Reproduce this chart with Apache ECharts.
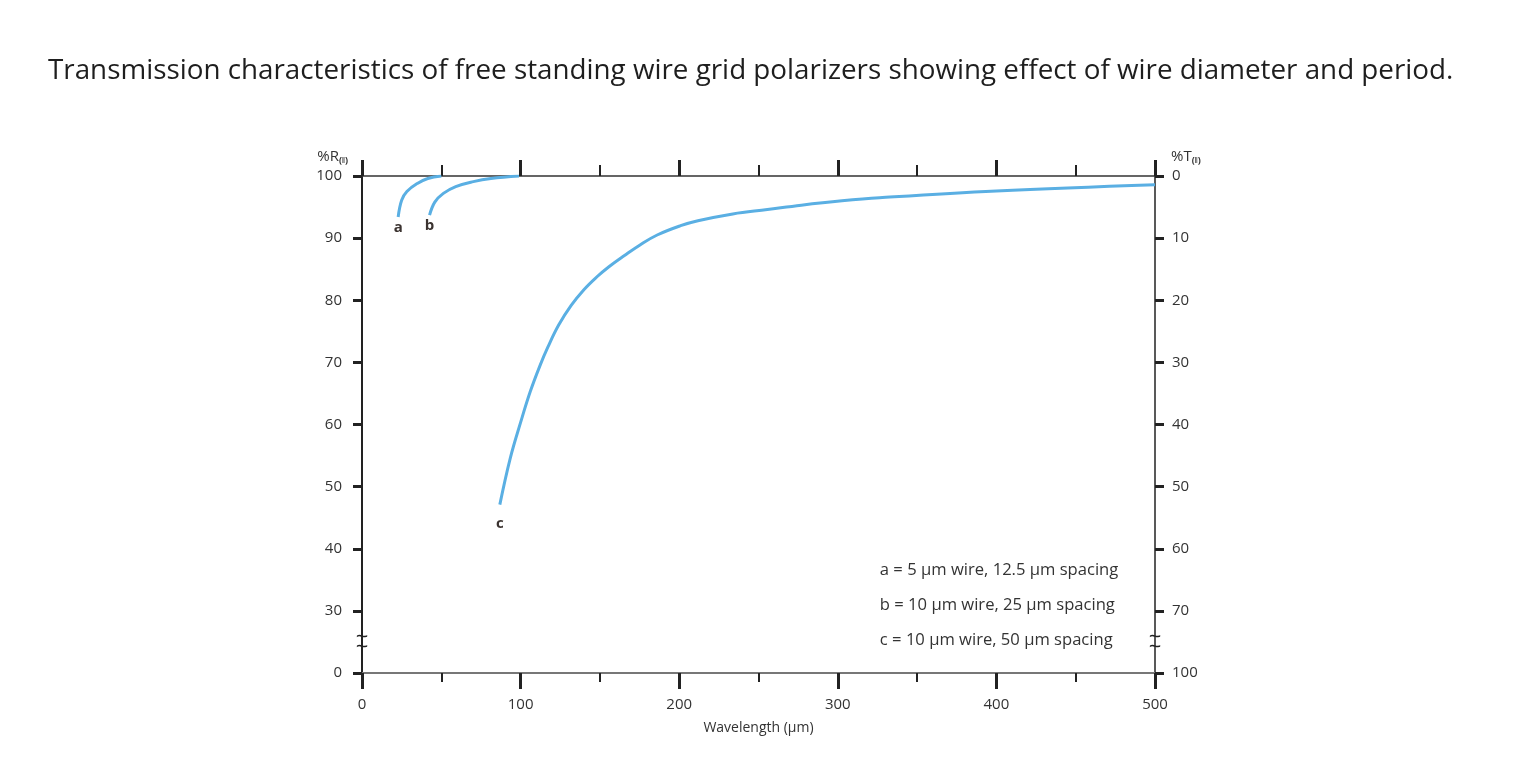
<!DOCTYPE html>
<html>
<head>
<meta charset="utf-8">
<title>Wire grid polarizers</title>
<script src="https://cdn.jsdelivr.net/npm/echarts@6/dist/echarts.min.js"></script>
<style>
  html, body { margin: 0; padding: 0; background: #fff; }
  #chart { width: 1523px; height: 771px; }
</style>
</head>
<body>
<div id="chart"></div>
<script>
// values (wavelength in µm, %R)
var waveA = [22.8, 25.0, 28.3, 34.9, 41.5, 50];
var reflA = [93.4, 96.1, 97.5, 98.8, 99.6, 100];
var waveB = [42.6, 45.9, 51.3, 59.1, 70.2, 81.3, 99];
var reflB = [93.7, 95.8, 97.2, 98.3, 99.1, 99.6, 100];
var waveC = [86.9, 93.5, 100.2, 106.1, 112.1, 117.1, 124, 132, 139.9, 147.8, 155.7, 165.5, 175.3, 186.1, 200.9, 211.8, 233.8, 255.6, 277, 302.6, 326.3, 400, 500];
var reflC = [47.1, 54.6, 60.5, 65.3, 69.4, 72.4, 76.0, 79.2, 81.7, 83.7, 85.4, 87.2, 88.9, 90.5, 92.0, 92.8, 93.9, 94.6, 95.3, 96.0, 96.5, 97.6, 98.6];

var curveNames = ["a", "b", "c"];
var labelGaps = [3, 3, 11];
var legendLines = [
  "a = 5 µm wire, 12.5 µm spacing",
  "b = 10 µm wire, 25 µm spacing",
  "c = 10 µm wire, 50 µm spacing"
];
// the "0" tick of %R sits where 20 would be (axis is broken below 30)
var breakValue = 20;

var lineColor = "#5aafe3";
var textColor = "#333";
var font = "Open Sans";

function pairs(xs, ys, name, gap) {
  return xs.map(function (x, i) {
    var item = { value: [x, ys[i]] };
    if (i === 0) {
      item.label = {
        show: true,
        position: "bottom",
        distance: gap,
        formatter: name,
        color: "#3b3330",
        fontWeight: "bold",
        fontSize: 15,
        fontFamily: font
      };
    }
    return item;
  });
}

var chart = echarts.init(document.getElementById("chart"));

var tickLine = { color: "#222", width: 3 };
var subStyle = { fontSize: 9, fontWeight: "bold", verticalAlign: "bottom", padding: [7, 0, 0, 0] };

var option = {
  animation: false,
  textStyle: { fontFamily: font },
  title: {
    text: "Transmission characteristics of free standing wire grid polarizers showing effect of wire diameter and period.",
    left: 48,
    top: 57,
    padding: 0,
    textStyle: { fontSize: 27.8, fontWeight: "normal", color: "#1e1e1e", fontFamily: font }
  },
  grid: { left: 362, right: 368, top: 176, bottom: 98, containLabel: false },
  xAxis: [
    {
      type: "value",
      position: "bottom",
      min: 0,
      max: 500,
      interval: 100,
      name: "Wavelength (µm)",
      nameLocation: "middle",
      nameGap: 48,
      nameTextStyle: { color: textColor, fontSize: 14 },
      axisLine: { show: true, onZero: false, lineStyle: { color: "#777", width: 2 } },
      axisTick: { show: true, inside: false, length: 16, lineStyle: tickLine },
      minorTick: { show: true, splitNumber: 2, length: 9, lineStyle: { color: "#222", width: 2 } },
      axisLabel: { color: textColor, fontSize: 15, margin: 24 },
      splitLine: { show: false }
    },
    {
      type: "value",
      position: "top",
      min: 0,
      max: 500,
      interval: 100,
      axisLine: { show: true, onZero: false, lineStyle: { color: "#333", width: 1.5 } },
      axisTick: { show: true, inside: false, length: 16, lineStyle: tickLine },
      minorTick: { show: true, splitNumber: 2, length: 11, lineStyle: { color: "#222", width: 2 } },
      axisLabel: { show: false },
      splitLine: { show: false }
    }
  ],
  yAxis: [
    {
      type: "value",
      position: "left",
      min: breakValue,
      max: 100,
      interval: 10,
      name: "%R{s|(‖)}",
      nameLocation: "end",
      nameGap: 11,
      nameTextStyle: {
        color: textColor, fontSize: 15, align: "right", padding: [0, 14, 0, 0],
        rich: { s: subStyle }
      },
      axisLine: { show: true, onZero: false, lineStyle: { color: "#222", width: 2 } },
      axisTick: { show: true, inside: false, length: 9, lineStyle: tickLine },
      axisLabel: {
        color: textColor, fontSize: 15, margin: 20,
        formatter: function (v) { return v === breakValue ? "0" : String(v); }
      },
      splitLine: { show: false }
    },
    {
      type: "value",
      position: "right",
      min: breakValue,
      max: 100,
      interval: 10,
      name: "%T{s|(‖)}",
      nameLocation: "end",
      nameGap: 11,
      nameTextStyle: {
        color: textColor, fontSize: 15, align: "left", padding: [0, 0, 0, 16],
        rich: { s: subStyle }
      },
      axisLine: { show: true, onZero: false, lineStyle: { color: "#222", width: 1.5 } },
      axisTick: { show: true, inside: false, length: 9, lineStyle: tickLine },
      axisLabel: {
        color: textColor, fontSize: 15, margin: 17,
        formatter: function (v) { return v === breakValue ? "100" : String(100 - v); }
      },
      splitLine: { show: false }
    }
  ],
  series: [waveA, waveB, waveC].map(function (xs, i) {
    var ys = [reflA, reflB, reflC][i];
    return {
      type: "line",
      name: curveNames[i],
      xAxisIndex: 0,
      yAxisIndex: 0,
      smooth: 0.4,
      symbol: "circle",
      symbolSize: 1,
      showSymbol: true,
      itemStyle: { color: "rgba(0,0,0,0)" },
      lineStyle: { color: lineColor, width: 3 },
      data: pairs(xs, ys, curveNames[i], labelGaps[i]),
      z: 3
    };
  })
};

chart.setOption(option);

// axis-break marks and the key, placed through the chart's own scales
var breakY = chart.convertToPixel({ yAxisIndex: 0 }, 25);
var leftX = chart.convertToPixel({ xAxisIndex: 0 }, 0);
var rightX = chart.convertToPixel({ xAxisIndex: 0 }, 500);
var keyX = chart.convertToPixel({ xAxisIndex: 0 }, 326.5);
var keyY = chart.convertToPixel({ yAxisIndex: 0 }, 36.6);

var graphics = [];
[leftX, rightX].forEach(function (x) {
  [-4, 6].forEach(function (dy) {
    graphics.push({
      type: "text",
      x: x,
      y: breakY + dy,
      style: { text: "~", fill: "#222", font: "22px " + font, align: "center", verticalAlign: "middle" },
      z: 10
    });
  });
});
legendLines.forEach(function (t, i) {
  graphics.push({
    type: "text",
    x: keyX,
    y: keyY + i * 35,
    style: { text: t, fill: "#333", font: "16.6px " + font, align: "left", verticalAlign: "middle" }
  });
});
chart.setOption({ graphic: graphics });
</script>
</body>
</html>
